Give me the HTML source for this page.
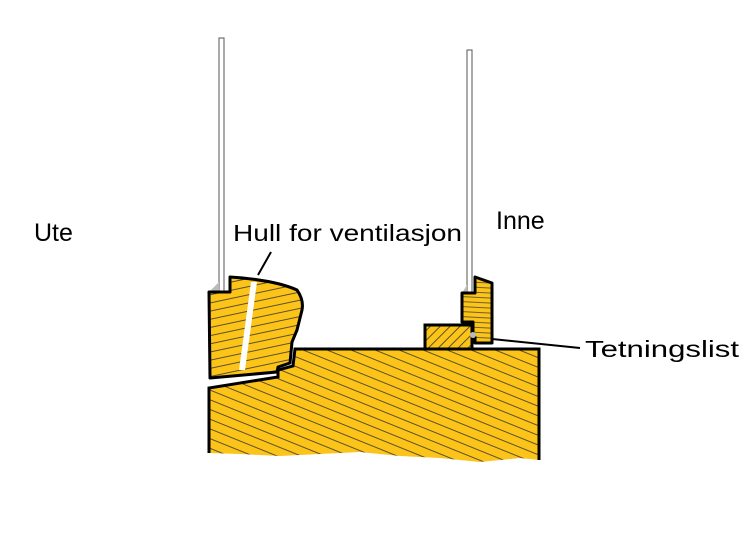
<!DOCTYPE html>
<html><head><meta charset="utf-8"><style>html,body{margin:0;padding:0;background:#fff}svg{display:block}</style></head>
<body>
<svg width="750" height="541" viewBox="0 0 750 541" xmlns="http://www.w3.org/2000/svg">
<defs>
<pattern id="h1" width="8" height="8" patternUnits="userSpaceOnUse" patternTransform="rotate(-12)">
<rect width="8" height="8" fill="#fcc419"/><line x1="0" y1="4" x2="8" y2="4" stroke="#333" stroke-width="0.8"/></pattern>
<pattern id="h2" width="9" height="9" patternUnits="userSpaceOnUse" patternTransform="rotate(22)">
<rect width="9" height="9" fill="#fcc419"/><line x1="0" y1="4" x2="9" y2="4" stroke="#333" stroke-width="0.8"/></pattern>
<pattern id="h3" width="7" height="7" patternUnits="userSpaceOnUse" patternTransform="rotate(-45)">
<rect width="7" height="7" fill="#fcc419"/><line x1="0" y1="3" x2="7" y2="3" stroke="#333" stroke-width="0.8"/></pattern>
<pattern id="h4" width="5" height="5" patternUnits="userSpaceOnUse" patternTransform="rotate(3)">
<rect width="5" height="5" fill="#fcc419"/><line x1="0" y1="2" x2="5" y2="2" stroke="#333" stroke-width="0.7"/></pattern>
</defs>
<g fill="#fff" stroke="#555" stroke-width="1"><rect x="219" y="38" width="5" height="254"/><rect x="467" y="50" width="5" height="243"/></g>
<polygon points="209,292 219,282 219,292" fill="#bbb"/>
<polygon points="462,293 467,285 467,293" fill="#bbb"/>
<path d="M209,388 L278,377 L278,370 L293,366 L295,349 L539,349 L539,460 L520,458 L480,462 L440,458 L400,456 L360,452 L320,454 L280,456 L240,454 L209,453 Z" fill="url(#h2)"/>
<path d="M209,453 L209,388 L278,377 L278,370 L293,366 L295,349 L539,349 L539,460" fill="none" stroke="#000" stroke-width="3"/>
<path d="M209,292 L230,292 L230,277 Q275,280 297,290 Q304,300 302,310 L297,330 L292,342 L290,363 L278,367 L277,372 L210,378 Z" fill="url(#h1)" stroke="#000" stroke-width="3" stroke-linejoin="round"/>
<polygon points="251,282 257,282 245,370 239,370" fill="#fff"/>
<rect x="425" y="325" width="47" height="24" fill="url(#h3)" stroke="#000" stroke-width="3"/>
<path d="M462,293 L475,293 L475,277 L492,283 L492,343 L475,343 L475,337 L473,337 L473,322 L462,322 Z" fill="url(#h4)" stroke="#000" stroke-width="3" stroke-linejoin="round"/>
<circle cx="473" cy="335" r="3" fill="#bbb"/>
<line x1="492" y1="339" x2="580" y2="348" stroke="#000" stroke-width="2"/>
<line x1="258" y1="275" x2="271" y2="252" stroke="#000" stroke-width="2"/>
<g font-family="'Liberation Sans',sans-serif" font-size="23" fill="#000">
<text x="34" y="241" font-size="25">Ute</text>
<text x="233" y="241" textLength="229" lengthAdjust="spacingAndGlyphs">Hull for ventilasjon</text>
<text x="496" y="229" font-size="25">Inne</text>
<text x="585" y="357" textLength="154" lengthAdjust="spacingAndGlyphs">Tetningslist</text>
</g>
</svg>
</body></html>
